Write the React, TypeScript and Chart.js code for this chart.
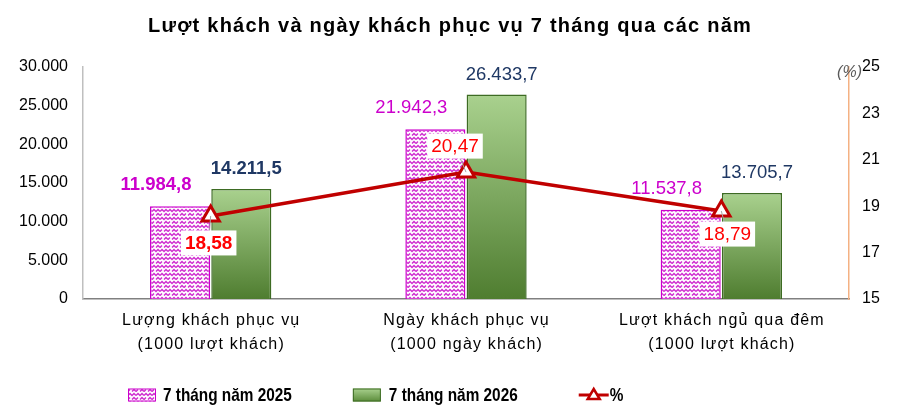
import React, { useEffect, useRef } from "react";
import { Chart, registerables } from "chart.js";

Chart.register(...registerables);

// ---------------- DATA ----------------
const chartTitle = "Lượt khách và ngày khách phục vụ 7 tháng qua các năm";
const categories = [
  ["Lượng khách phục vụ", "(1000 lượt khách)"],
  ["Ngày khách phục vụ", "(1000 ngày khách)"],
  ["Lượt khách ngủ qua đêm", "(1000 lượt khách)"],
];
const seriesNames = ["7 tháng năm 2025", "7 tháng năm 2026", "%"];
const values2025 = [11984.8, 21942.3, 11537.8];
const values2026 = [14211.5, 26433.7, 13705.7];
const percentValues = [18.58, 20.47, 18.79];
const leftAxisRange = [0, 30000];
const leftAxisStep = 5000;
const rightAxisRange = [15, 25];
const rightAxisStep = 2;
const rightAxisUnit = "(%)";

// ---------------- STYLE ----------------
const FONT = "'Liberation Sans', Arial, sans-serif";
const MAGENTA = "#cc00cc";
const NAVY = "#1f3864";
const RED = "#ff0000";
const LINE_RED = "#c00000";
const boldCategory = [true, false, false];

function fmtVN(v: number, decimals: number): string {
  const [i, d] = v.toFixed(decimals).split(".");
  const ii = i.replace(/\B(?=(\d{3})+(?!\d))/g, ".");
  return d ? ii + "," + d : ii;
}

function makePattern(): CanvasPattern | string {
  const c = document.createElement("canvas");
  c.width = 8;
  c.height = 8;
  const g = c.getContext("2d");
  if (!g) return MAGENTA;
  g.fillStyle = "#ffffff";
  g.fillRect(0, 0, 8, 8);
  g.strokeStyle = "#d030d0";
  g.lineWidth = 1.5;
  g.beginPath();
  g.moveTo(0, 3.5);
  g.lineTo(2, 1.5);
  g.lineTo(4, 3.5);
  g.lineTo(6, 1.5);
  g.lineTo(8, 3.5);
  g.moveTo(-2, 5.5);
  g.lineTo(0, 7.5);
  g.lineTo(2, 5.5);
  g.moveTo(4, 7.5);
  g.lineTo(6, 5.5);
  g.lineTo(8, 7.5);
  g.stroke();
  const p = g.createPattern(c, "repeat");
  return p || MAGENTA;
}

export default function App() {
  const canvasRef = useRef<HTMLCanvasElement | null>(null);

  useEffect(() => {
    document.body.style.margin = "0";
    const canvas = canvasRef.current;
    if (!canvas) return;
    const pattern = makePattern();

    const greenFill = (ctx: any) => {
      const chart = ctx.chart;
      const area = chart.chartArea;
      if (!area || ctx.type !== "data") return "#86b86a";
      const y = chart.scales.y;
      const top = y.getPixelForValue(ctx.raw as number);
      const bottom = y.getPixelForValue(0);
      const g = chart.ctx.createLinearGradient(0, top, 0, bottom);
      g.addColorStop(0, "#a9d18e");
      g.addColorStop(1, "#4f7d30");
      return g;
    };

    const labelsPlugin = {
      id: "customLabels",
      afterDatasetsDraw(chart: any) {
        const ctx = chart.ctx as CanvasRenderingContext2D;
        ctx.save();
        ctx.textAlign = "center";
        ctx.textBaseline = "middle";
        const mLine = chart.getDatasetMeta(0);
        const m25 = chart.getDatasetMeta(1);
        const m26 = chart.getDatasetMeta(2);
        m25.data.forEach((el: any, i: number) => {
          ctx.font = `${boldCategory[i] ? "bold " : ""}18.5px ${FONT}`;
          ctx.fillStyle = MAGENTA;
          ctx.fillText(fmtVN(values2025[i], 1), el.x - 24, el.y - 21);
        });
        m26.data.forEach((el: any, i: number) => {
          ctx.font = `${boldCategory[i] ? "bold " : ""}18.5px ${FONT}`;
          ctx.fillStyle = NAVY;
          ctx.fillText(fmtVN(values2026[i], 1), el.x + 5, el.y - 20);
        });
        const offs = [
          [-2, 27],
          [-11, -26],
          [6, 23],
        ];
        mLine.data.forEach((el: any, i: number) => {
          const txt = fmtVN(percentValues[i], 2);
          ctx.font = `${boldCategory[i] ? "bold " : ""}19px ${FONT}`;
          const w = ctx.measureText(txt).width + 8;
          const h = 25;
          const cx = el.x + offs[i][0];
          const cy = el.y + offs[i][1];
          ctx.strokeStyle = "#a6a6a6";
          ctx.lineWidth = 1;
          ctx.beginPath();
          ctx.moveTo(el.x, el.y);
          ctx.lineTo(cx, cy);
          ctx.stroke();
          ctx.fillStyle = "#ffffff";
          ctx.fillRect(cx - w / 2, cy - h / 2, w, h);
          ctx.fillStyle = RED;
          ctx.fillText(txt, cx, cy + 1);
        });
        ctx.restore();
      },
      afterDraw(chart: any) {
        const ctx = chart.ctx as CanvasRenderingContext2D;
        const area = chart.chartArea;
        const anyCtx = ctx as any;
        ctx.save();
        // title
        ctx.textAlign = "left";
        ctx.textBaseline = "middle";
        ctx.fillStyle = "#000000";
        ctx.font = `bold 20px ${FONT}`;
        const tw = ctx.measureText(chartTitle).width;
        const ls = Math.max(0, (604 - tw) / chartTitle.length);
        anyCtx.letterSpacing = `${ls}px`;
        ctx.fillText(chartTitle, 148, 26);
        anyCtx.letterSpacing = "0px";

        // category labels at the library's tick positions
        const xs = chart.scales.x;
        ctx.textAlign = "center";
        ctx.font = `16px ${FONT}`;
        anyCtx.letterSpacing = "1.2px";
        categories.forEach((lines, i) => {
          const px = xs.getPixelForTick(i);
          lines.forEach((ln, j) => {
            ctx.fillText(ln, px + 0.6, area.bottom + 22 + j * 24);
          });
        });
        anyCtx.letterSpacing = "0px";

        // unit
        ctx.font = `italic 16px ${FONT}`;
        ctx.fillStyle = "#595959";
        ctx.textAlign = "right";
        ctx.fillText(rightAxisUnit, area.right + 13, area.top + 6);

        // legend
        ctx.fillStyle = "#000";
        ctx.textAlign = "left";
        const boxW = 28;
        const boxH = 13;
        const ly = 395;
        const sx = 0.83;
        const drawNarrow = (txt: string, x: number) => {
          ctx.save();
          ctx.font = `bold 18.5px ${FONT}`;
          ctx.translate(x, ly + 1);
          ctx.scale(sx, 1);
          ctx.fillText(txt, 0, 0);
          const w = ctx.measureText(txt).width * sx;
          ctx.restore();
          return w;
        };
        let x = 128;
        ctx.fillStyle = pattern as any;
        ctx.fillRect(x, ly - boxH / 2, boxW, boxH);
        ctx.strokeStyle = MAGENTA;
        ctx.lineWidth = 1;
        ctx.strokeRect(x + 0.5, ly - boxH / 2 + 0.5, boxW - 1, boxH - 1);
        ctx.fillStyle = "#000";
        let w = drawNarrow(seriesNames[0], x + boxW + 7);
        x = x + boxW + 7 + w + 61;
        const g = ctx.createLinearGradient(0, ly - boxH / 2, 0, ly + boxH / 2);
        g.addColorStop(0, "#a9d18e");
        g.addColorStop(1, "#5b8c3a");
        ctx.fillStyle = g;
        ctx.fillRect(x, ly - boxH / 2, boxW, boxH);
        ctx.strokeStyle = "#3d6b23";
        ctx.strokeRect(x + 0.5, ly - boxH / 2 + 0.5, boxW - 1, boxH - 1);
        ctx.fillStyle = "#000";
        w = drawNarrow(seriesNames[1], x + boxW + 8);
        x = x + boxW + 8 + w + 61;
        const lineW = 30;
        ctx.strokeStyle = LINE_RED;
        ctx.lineWidth = 3;
        ctx.beginPath();
        ctx.moveTo(x, ly);
        ctx.lineTo(x + lineW, ly);
        ctx.stroke();
        const tx = x + lineW / 2;
        ctx.beginPath();
        ctx.moveTo(tx, ly - 6);
        ctx.lineTo(tx + 6, ly + 4);
        ctx.lineTo(tx - 6, ly + 4);
        ctx.closePath();
        ctx.fillStyle = "#fff";
        ctx.fill();
        ctx.lineWidth = 2.5;
        ctx.stroke();
        ctx.fillStyle = "#000";
        drawNarrow(seriesNames[2], x + lineW + 1);
        ctx.restore();
      },
    };

    const chart = new Chart(canvas, {
      type: "bar",
      data: {
        labels: categories as any,
        datasets: [
          {
            type: "line",
            label: seriesNames[2],
            data: percentValues,
            yAxisID: "y1",
            borderColor: LINE_RED,
            borderWidth: 3.5,
            pointStyle: "triangle",
            pointRadius: 10,
            pointBackgroundColor: "#ffffff",
            pointBorderColor: LINE_RED,
            pointBorderWidth: 3,
            order: 0,
          } as any,
          {
            type: "bar",
            label: seriesNames[0],
            data: values2025,
            yAxisID: "y",
            backgroundColor: pattern as any,
            borderColor: MAGENTA,
            borderWidth: 1.5,
            categoryPercentage: 0.48,
            barPercentage: 0.98,
            order: 1,
          },
          {
            type: "bar",
            label: seriesNames[1],
            data: values2026,
            yAxisID: "y",
            backgroundColor: greenFill,
            borderColor: "#3d6b23",
            borderWidth: 1.5,
            categoryPercentage: 0.48,
            barPercentage: 0.98,
            order: 1,
          },
        ],
      },
      options: {
        responsive: false,
        animation: false,
        devicePixelRatio: 1,
        layout: { padding: { top: 67, left: 0, right: 0, bottom: 0 } },
        plugins: {
          legend: { display: false },
          title: { display: false },
          tooltip: { enabled: false },
        },
        scales: {
          x: {
            grid: { display: false, drawTicks: false },
            border: { display: true, color: "#808080", width: 1.5 },
            ticks: {
              color: "rgba(0,0,0,0)",
              font: { family: FONT, size: 16, lineHeight: 1.5 },
              padding: 12,
              maxRotation: 0,
              autoSkip: false,
            },
            afterFit: (s: any) => {
              s.height = 118;
            },
          },
          y: {
            position: "left",
            min: leftAxisRange[0],
            max: leftAxisRange[1],
            grid: { display: false, drawTicks: false },
            border: { display: true, color: "#bfbfbf", width: 1.5 },
            ticks: {
              stepSize: leftAxisStep,
              color: "#000000",
              font: { family: FONT, size: 16 },
              padding: 15,
              callback: (v: any) => fmtVN(Number(v), 0),
            },
            afterFit: (s: any) => {
              s.width = 83;
            },
          },
          y1: {
            position: "right",
            min: rightAxisRange[0],
            max: rightAxisRange[1],
            grid: { display: false, drawTicks: false },
            border: { display: true, color: "#f4b183", width: 1.5 },
            ticks: {
              stepSize: rightAxisStep,
              color: "#000000",
              font: { family: FONT, size: 16 },
              padding: 13,
            },
            afterFit: (s: any) => {
              s.width = 54;
            },
          },
        },
      },
      plugins: [labelsPlugin],
    });

    return () => chart.destroy();
  }, []);

  return (
    <canvas
      ref={canvasRef}
      width={903}
      height={417}
      style={{ display: "block", width: 903, height: 417 }}
    />
  );
}
